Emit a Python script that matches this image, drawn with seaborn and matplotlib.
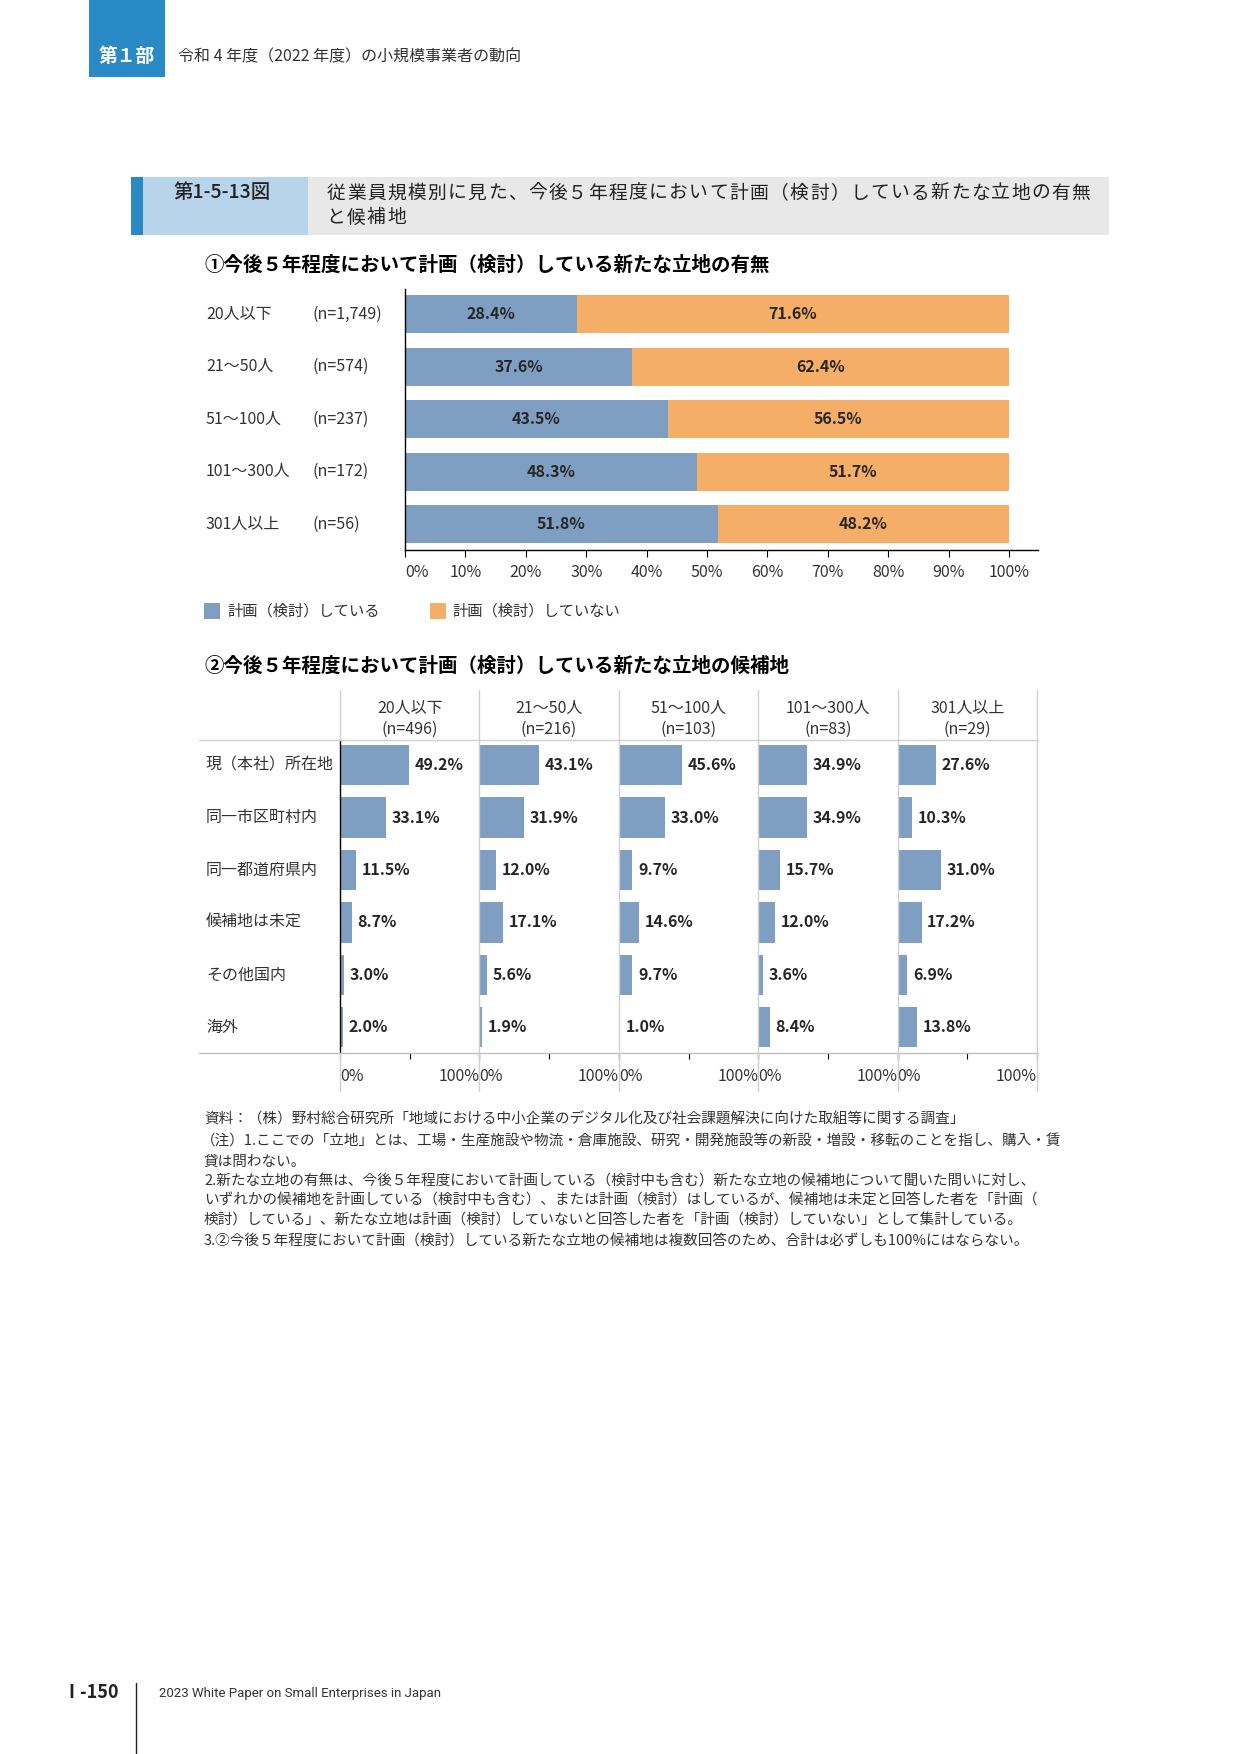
import matplotlib.pyplot as plt
import matplotlib.patches as mpatches
import matplotlib.lines as mlines
import matplotlib.transforms as mtransforms
import pandas as pd
import seaborn as sns

# chart 1: planning of new locations by employee size
sizes = ['20人以下', '21～50人', '51～100人', '101～300人', '301人以上']
n_chart1 = ['(n=1,749)', '(n=574)', '(n=237)', '(n=172)', '(n=56)']
planning = [28.4, 37.6, 43.5, 48.3, 51.8]
not_planning = [71.6, 62.4, 56.5, 51.7, 48.2]
legend_labels = ['計画（検討）している', '計画（検討）していない']
chart1_ticks = [0, 10, 20, 30, 40, 50, 60, 70, 80, 90, 100]

# chart 2: candidate locations (multiple answers)
n_chart2 = ['(n=496)', '(n=216)', '(n=103)', '(n=83)', '(n=29)']
places = ['現（本社）所在地', '同一市区町村内', '同一都道府県内', '候補地は未定', 'その他国内', '海外']
share_20 = [49.2, 33.1, 11.5, 8.7, 3.0, 2.0]
share_21_50 = [43.1, 31.9, 12.0, 17.1, 5.6, 1.9]
share_51_100 = [45.6, 33.0, 9.7, 14.6, 9.7, 1.0]
share_101_300 = [34.9, 34.9, 15.7, 12.0, 3.6, 8.4]
share_301 = [27.6, 10.3, 31.0, 17.2, 6.9, 13.8]

title_lines = ['従業員規模別に見た、今後５年程度において計画（検討）している新たな立地の有無', 'と候補地']
notes = [
    '資料：（株）野村総合研究所「地域における中小企業のデジタル化及び社会課題解決に向けた取組等に関する調査」',
    '（注）1.ここでの「立地」とは、工場・生産施設や物流・倉庫施設、研究・開発施設等の新設・増設・移転のことを指し、購入・賃',
    '貸は問わない。',
    '2.新たな立地の有無は、今後５年程度において計画している（検討中も含む）新たな立地の候補地について聞いた問いに対し、',
    'いずれかの候補地を計画している（検討中も含む）、または計画（検討）はしているが、候補地は未定と回答した者を「計画（',
    '検討）している」、新たな立地は計画（検討）していないと回答した者を「計画（検討）していない」として集計している。',
    '3.②今後５年程度において計画（検討）している新たな立地の候補地は複数回答のため、合計は必ずしも100%にはならない。',
]

BLUE = '#7f9fc2'
ORANGE = '#f5ae68'
TEXT = '#333333'

sns.set_style('white')
plt.rcParams['font.family'] = ['Noto Sans CJK JP', 'DejaVu Sans']

W, H = 1241, 1754
fig = plt.figure(figsize=(W / 100, H / 100), dpi=100)


def fx(px):
    return px / W


def fy(py):
    return 1 - py / H


def box(x0, y0, x1, y1):
    return [x0 / W, 1 - y1 / H, (x1 - x0) / W, (y1 - y0) / H]


def hline(x0, x1, y, color, lw=1.0):
    fig.add_artist(mlines.Line2D([fx(x0), fx(x1)], [fy(y), fy(y)], color=color, lw=lw))


def vline(x, y0, y1, color, lw=1.0):
    fig.add_artist(mlines.Line2D([fx(x), fx(x)], [fy(y0), fy(y1)], color=color, lw=lw))


def rect(x0, y0, x1, y1, color):
    fig.add_artist(mpatches.Rectangle((fx(x0), fy(y1)), fx(x1) - fx(x0), fy(y0) - fy(y1),
                                      color=color, lw=0))


# page header
rect(89, 0, 165, 77, '#2a8ac6')
fig.text(fx(127), fy(57), '第１部', color='white', fontsize=13.5, weight='bold',
         ha='center', va='center')
fig.text(fx(178), fy(57), '令和 4 年度（2022 年度）の小規模事業者の動向', color=TEXT,
         fontsize=11.5, va='center')

# figure title box
rect(131, 177, 143, 235, '#2a8ac6')
rect(143, 177, 308, 235, '#b8d4eb')
rect(308, 177, 1109, 235, '#e8e8e8')
fig.text(fx(173), fy(193), '第1-5-13図', color='#222222', fontsize=14, weight='medium',
         va='center')
# title is set with wide letter spacing
pitch = (1091 - 326) / len(title_lines[0])
for y, line in zip([193, 218], title_lines):
    for j, ch in enumerate(line):
        fig.text(fx(326 + pitch * (j + 0.5)), fy(y), ch, color='#222222', fontsize=13.5,
                 ha='center', va='center')

# ---- chart 1 ----
fig.text(fx(204), fy(265), '①今後５年程度において計画（検討）している新たな立地の有無',
         fontsize=14, weight='bold', va='center', color='black')

df1 = pd.DataFrame({'size': sizes, 'planning': planning, 'not_planning': not_planning})
df1['total'] = df1['planning'] + df1['not_planning']

ax1 = fig.add_axes(box(405, 289, 1038, 550))
sns.barplot(data=df1, x='total', y='size', color=ORANGE, saturation=1, width=0.72,
            errorbar=None, orient='h', ax=ax1, linewidth=0)
sns.barplot(data=df1, x='planning', y='size', color=BLUE, saturation=1, width=0.72,
            errorbar=None, orient='h', ax=ax1, linewidth=0)
ax1.set_xlim(0, 100 * (1038 - 405) / (1009 - 405))
ax1.set_ylim(4.49, -0.48)
ax1.set_xlabel('')
ax1.set_ylabel('')
ax1.set_yticks([])
ax1.set_xticks(chart1_ticks)
ax1.set_xticklabels([f'{t}%' for t in chart1_ticks])
ax1.get_xticklabels()[0].set_horizontalalignment('left')
ax1.tick_params(axis='x', length=5, width=0.8, color='black', pad=5,
                labelsize=11.5, labelcolor=TEXT, bottom=True)
for side in ['top', 'right']:
    ax1.spines[side].set_visible(False)
for side in ['left', 'bottom']:
    ax1.spines[side].set_color('black')
    ax1.spines[side].set_linewidth(1)

row_trans = mtransforms.blended_transform_factory(fig.transFigure, ax1.transData)
for i, (s, n, p, q) in enumerate(zip(sizes, n_chart1, planning, not_planning)):
    ax1.text(fx(206), i, s, transform=row_trans, va='center', fontsize=11.5, color=TEXT)
    ax1.text(fx(312), i, n, transform=row_trans, va='center', fontsize=11.5, color=TEXT)
    ax1.text(p / 2, i, f'{p:.1f}%', ha='center', va='center', fontsize=11.5, weight='bold')
    ax1.text(p + q / 2, i, f'{q:.1f}%', ha='center', va='center', fontsize=11.5, weight='bold')

# legend
for x_sq, x_txt, col, lab in [(204, 227, BLUE, legend_labels[0]), (430, 452, ORANGE, legend_labels[1])]:
    rect(x_sq, 603, x_sq + 16, 619, col)
    fig.text(fx(x_txt), fy(611), lab, fontsize=11, color=TEXT, va='center')

# ---- chart 2 ----
fig.text(fx(204), fy(666), '②今後５年程度において計画（検討）している新たな立地の候補地',
         fontsize=14, weight='bold', va='center', color='black')

shares = [share_20, share_21_50, share_51_100, share_101_300, share_301]
df2 = pd.DataFrame({
    'size': [s for s in sizes for _ in places],
    'place': places * len(sizes),
    'share': [v for col in shares for v in col],
})

GRID = '#d0d0d0'
left0, right0 = 340, 1037
pw = (right0 - left0) / len(sizes)
shift_r = mtransforms.ScaledTranslation(3 / 100, 0, fig.dpi_scale_trans)
shift_l = mtransforms.ScaledTranslation(-3 / 100, 0, fig.dpi_scale_trans)

for k, s in enumerate(sizes):
    x0 = left0 + k * pw
    ax = fig.add_axes(box(x0, 740, x0 + pw, 1053))
    sub = df2[df2['size'] == s]
    sns.barplot(data=sub, x='share', y='place', color=BLUE, saturation=1, width=0.77,
                errorbar=None, orient='h', ax=ax, linewidth=0)
    ax.set_xlim(0, 100)
    ax.set_ylim(5.49, -0.48)
    ax.set_xlabel('')
    ax.set_ylabel('')
    ax.set_yticks([])
    ax.set_xticks([0, 50, 100])
    ax.set_xticklabels(['0%', '', '100%'])
    labels = ax.get_xticklabels()
    labels[0].set_horizontalalignment('left')
    labels[0].set_transform(labels[0].get_transform() + shift_r)
    labels[2].set_horizontalalignment('right')
    labels[2].set_transform(labels[2].get_transform() + shift_l)
    ax.tick_params(axis='x', length=4, width=0.8, color='black', pad=7,
                   labelsize=11.5, labelcolor=TEXT, bottom=True)
    for side in ['top', 'right', 'bottom', 'left']:
        ax.spines[side].set_visible(False)
    if k == 0:
        ax.spines['left'].set_visible(True)
        ax.spines['left'].set_color('black')
        ax.spines['left'].set_linewidth(1)
    ax.patch.set_alpha(0)
    for i, v in enumerate(sub['share']):
        ax.annotate(f'{v:.1f}%', xy=(v, i), xytext=(4, 0), textcoords='offset points',
                    va='center', ha='left', fontsize=11.5, weight='bold')
    # column header
    fig.text(fx(x0 + pw / 2), fy(708), s, ha='center', va='center', fontsize=11.5, color=TEXT)
    fig.text(fx(x0 + pw / 2), fy(729), n_chart2[k], ha='center', va='center', fontsize=11.5, color=TEXT)

row_trans2 = mtransforms.blended_transform_factory(fig.transFigure, ax.transData)
for i, pl in enumerate(places):
    ax.text(fx(206), i, pl, transform=row_trans2, va='center', fontsize=11.5, color=TEXT)

# table lines of chart 2
hline(199, 1038, 740, GRID)
hline(199, 1038, 1053, '#c0c0c0')
vline(left0, 690, 740, GRID)
vline(left0, 1053, 1091, GRID)
for k in range(1, len(sizes) + 1):
    vline(left0 + k * pw, 690, 1091, GRID)

# notes
note_y = [1119, 1142, 1162, 1182, 1201, 1221, 1242]
for y, line in zip(note_y, notes):
    x = 201 if line.startswith('（') else 204
    fig.text(fx(x), fy(y), line, fontsize=10.5, color=TEXT, va='center')

# footer
fig.text(fx(62), fy(1693), 'Ⅰ-150', fontsize=13, weight='bold', color='#222222', va='center')
vline(136, 1683, 1754, '#222222', lw=1)
fig.text(fx(159), fy(1693), '2023 White Paper on Small Enterprises in Japan', fontsize=9.5,
         family='Roboto', color=TEXT, va='center')

fig.savefig('out.png', dpi=100)
